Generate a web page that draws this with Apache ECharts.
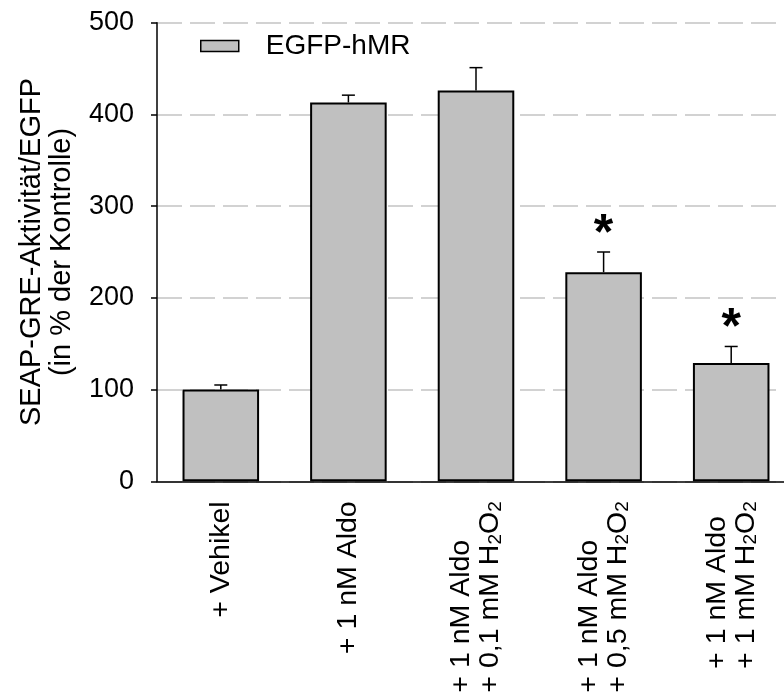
<!DOCTYPE html>
<html>
<head>
<meta charset="utf-8">
<script src="https://cdn.jsdelivr.net/npm/echarts@6/dist/echarts.min.js"></script>
<style>
  html, body { margin: 0; padding: 0; background: #fff; }
  #chart { width: 784px; height: 692px; }
</style>
</head>
<body>
<div id="chart"></div>
<script>
// Treatment groups (H2O2 is typeset with subscripts by the label formatter)
const categories = [
  '+ Vehikel',
  '+ 1 nM Aldo',
  '+ 1 nM Aldo\n+ 0,1 mM H2O2',
  '+ 1 nM Aldo\n+ 0,5 mM H2O2',
  '+ 1 nM Aldo\n+ 1 mM H2O2'
];
// SEAP-GRE activity normalised to EGFP, in % of control
const values = [100, 413, 426, 228, 129];
// Upper error (SEM)
const errors = [5, 8, 25, 22, 18];
// Significance markers
const marks = ['', '', '', '*', '*'];
const seriesName = 'EGFP-hMR';
const yTicks = { min: 0, max: 500, interval: 100 };

const FONT = '"Liberation Sans", Arial, Helvetica, sans-serif';

function richLabel(text) {
  return text.split('\n').map(line => {
    const parts = line.split('H2O2');
    if (parts.length === 1) return '{t|' + line + '}';
    return '{t|' + parts[0] + 'H}{s|2}{t|O}{s|2}' + (parts[1] ? '{t|' + parts[1] + '}' : '');
  }).join('\n');
}

const chart = echarts.init(document.getElementById('chart'), null, { renderer: 'canvas' });

chart.setOption({
  animation: false,
  backgroundColor: '#fff',
  textStyle: { fontFamily: FONT },
  grid: {
    left: 157, top: 22.7, width: 638, height: 458.6,
    containLabel: false,
    outerBoundsMode: 'none'
  },
  legend: {
    data: [seriesName],
    left: 200,
    top: 32,
    padding: 0,
    icon: 'rect',
    itemWidth: 38,
    itemHeight: 11,
    itemStyle: { color: '#c0c0c0', borderColor: '#000', borderWidth: 1.5 },
    textStyle: { fontFamily: FONT, fontSize: 28, color: '#000', padding: [0, 0, 0, 22] }
  },
  xAxis: {
    type: 'category',
    data: categories,
    axisLine: { lineStyle: { color: '#000', width: 1.5 } },
    axisTick: { alignWithLabel: true, length: 6, lineStyle: { color: '#000', width: 1.5 } },
    axisLabel: {
      rotate: 90,
      margin: 20,
      interval: 0,
      hideOverlap: false,
      formatter: richLabel,
      rich: {
        t: { fontFamily: FONT, fontSize: 28.5, color: '#000', align: 'left', lineHeight: 29 },
        s: { fontFamily: FONT, fontSize: 19, color: '#000', align: 'left', verticalAlign: 'bottom', lineHeight: 12 }
      }
    },
    splitLine: { show: false }
  },
  yAxis: {
    type: 'value',
    min: yTicks.min,
    max: yTicks.max,
    interval: yTicks.interval,
    name: 'SEAP-GRE-Aktivität/EGFP\n(in % der Kontrolle)',
    nameLocation: 'middle',
    nameGap: 80,
    nameTextStyle: { fontFamily: FONT, fontSize: 29, color: '#000', lineHeight: 30 },
    axisLine: { show: true, lineStyle: { color: '#000', width: 1.5 } },
    axisTick: { show: true, length: 6, lineStyle: { color: '#000', width: 1.5 } },
    axisLabel: { fontFamily: FONT, fontSize: 27, color: '#000', margin: 23 },
    splitLine: { show: true, lineStyle: { color: '#c4c4c4', width: 1.5, type: [25, 8] } }
  },
  series: [
    {
      name: seriesName,
      type: 'bar',
      data: values,
      barWidth: '60%',
      itemStyle: { color: '#c0c0c0', borderColor: '#000', borderWidth: 2 },
      z: 2
    },
    {
      name: 'err',
      type: 'custom',
      data: values.map((v, i) => [i, v, v + errors[i], marks[i]]),
      encode: { x: 0, y: [1, 2] },
      z: 3,
      renderItem: function (params, api) {
        const idx = api.value(0);
        const base = api.coord([idx, api.value(1)]);
        const top = api.coord([idx, api.value(2)]);
        const half = 6.5;
        const style = { stroke: '#000', lineWidth: 1.5 };
        const children = [
          { type: 'line', shape: { x1: base[0], y1: base[1], x2: top[0], y2: top[1] }, style: style },
          { type: 'line', shape: { x1: top[0] - half, y1: top[1], x2: top[0] + half, y2: top[1] }, style: style }
        ];
        const mark = marks[params.dataIndex];
        if (mark) {
          children.push({
            type: 'text',
            style: {
              text: mark,
              x: top[0],
              y: top[1] - 17,
              align: 'center',
              verticalAlign: 'middle',
              font: 'bold 50px ' + FONT,
              fill: '#000'
            }
          });
        }
        return { type: 'group', children: children };
      }
    }
  ]
});
</script>
</body>
</html>
